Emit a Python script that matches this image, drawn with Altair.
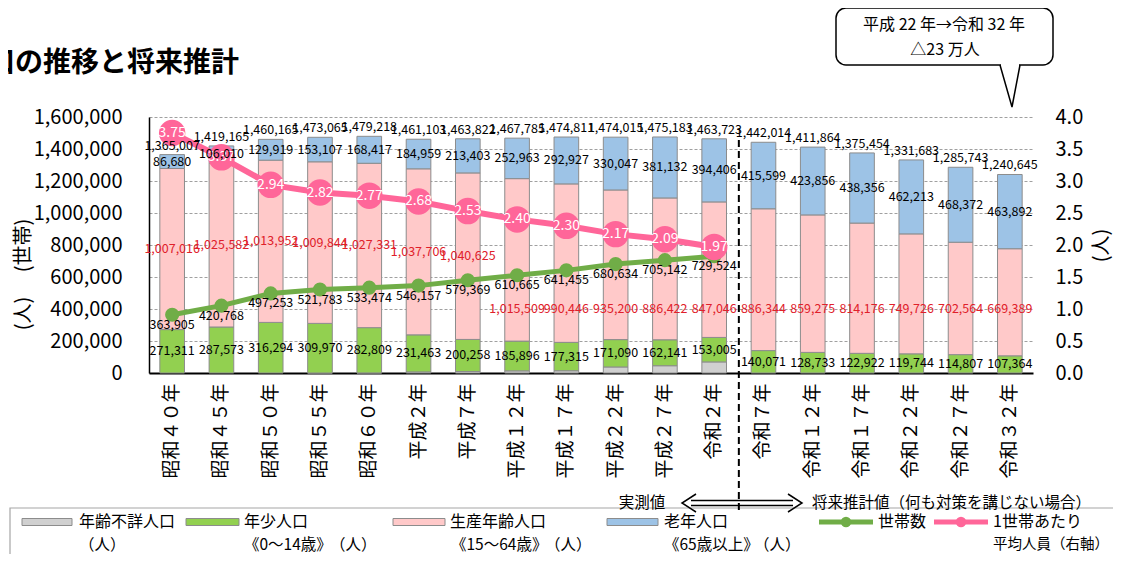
import altair as alt
import pandas as pd

FONT = "Noto Sans CJK JP"

categories = ["昭和４０年", "昭和４５年", "昭和５０年", "昭和５５年", "昭和６０年", "平成２年",
              "平成７年", "平成１２年", "平成１７年", "平成２２年", "平成２７年", "令和２年",
              "令和７年", "令和１２年", "令和１７年", "令和２２年", "令和２７年", "令和３２年"]
total = [1365007, 1419165, 1460165, 1473065, 1479218, 1461103, 1463822, 1467785, 1474811,
         1474015, 1475183, 1463723, 1442014, 1411864, 1375454, 1331683, 1285743, 1240645]
young = [271311, 287573, 316294, 309970, 282809, 231463, 200258, 185896, 177315,
         171090, 162141, 153005, 140071, 128733, 122922, 119744, 114807, 107364]
working = [1007016, 1025582, 1013952, 1009844, 1027331, 1037706, 1040625, 1015509, 990446,
           935200, 886422, 847046, 886344, 859275, 814176, 749726, 702564, 669389]
elderly = [86680, 106010, 129919, 153107, 168417, 184959, 213403, 252963, 292927,
           330047, 381132, 394406, 415599, 423856, 438356, 462213, 468372, 463892]
households = [363905, 420768, 497253, 521783, 533474, 546157, 579369, 610665, 641455,
              680634, 705142, 729524]
persons_per_household = [3.75, 3.37, 2.94, 2.82, 2.77, 2.68, 2.53, 2.40, 2.30, 2.17, 2.09, 1.97]
left_ticks = [0, 200000, 400000, 600000, 800000, 1000000, 1200000, 1400000, 1600000]
right_ticks = [0.0, 0.5, 1.0, 1.5, 2.0, 2.5, 3.0, 3.5, 4.0]

groups = ["年齢不詳人口", "年少人口", "生産年齢人口", "老年人口"]
group_colors = ["#d0d0d0", "#92d050", "#ffc9c9", "#9dc3e6"]
HH_COLOR = "#70ad47"
PP_COLOR = "#ff6699"
RED = "#e0202a"

unknown = [t - y - w - e for t, y, w, e in zip(total, young, working, elderly)]

# ---- stacked bar table
rows = []
for i, c in enumerate(categories):
    base = 0
    for g, v in zip(groups, [unknown[i], young[i], working[i], elderly[i]]):
        if v > 0:
            rows.append({"cat": c, "group": g, "y0": base, "y1": base + v})
        base += v
bar_df = pd.DataFrame(rows)

lab = pd.DataFrame({"cat": categories, "total": total, "young": young, "working": working,
                    "elderly": elderly, "unknown": unknown})
lab["idx"] = range(len(lab))
lab["total_txt"] = lab["total"].map(lambda v: f"{v:,}")
lab["eld_txt"] = lab["elderly"].map(lambda v: f"{v:,}")
lab["young_txt"] = lab["young"].map(lambda v: f"{v:,}")
lab["work_txt"] = lab["working"].map(lambda v: f"{v:,}")
lab["eld_y"] = lab["total"] - lab["elderly"] / 2
lab["young_y"] = lab["unknown"] + lab["young"] / 2
lab["work_y"] = [
    (u + y + w / 2) if i < 7 else 400000
    for i, u, y, w in zip(lab["idx"], lab["unknown"], lab["young"], lab["working"])
]

hh = pd.DataFrame({"cat": categories[:len(households)], "hh": households,
                   "pp": persons_per_household})
hh["hh_txt"] = hh["hh"].map(lambda v: f"{v:,}")
hh["pp_txt"] = hh["pp"].map(lambda v: f"{v:.2f}")

xscale = alt.Scale(domain=categories, paddingInner=0.5, paddingOuter=0.22)
xaxis = alt.Axis(title=None, labelAngle=-90, labelFontSize=19, labelFont=FONT, labelColor="black",
                 labelPadding=10, ticks=False, domainColor="black", domainWidth=2,
                 labelAlign="right", labelBaseline="middle")
X = alt.X("cat:N", scale=xscale, axis=xaxis)

yscale_l = alt.Scale(domain=[0, 1600000], nice=False, zero=True)
yaxis_l = alt.Axis(values=left_ticks, format=",d", labelFontSize=20, labelFont=FONT,
                   labelColor="black", labelPadding=27, ticks=False, domainColor="black",
                   domainWidth=1.5, grid=True, gridColor="#a0a0a0", gridDash=[3, 2],
                   gridWidth=1, title="(人)　 (世帯)", titleFont=FONT, titleFontSize=20,
                   titleFontWeight="normal", titleColor="black", titleAngle=-90,
                   titleX=-126, titleY=157, titleAlign="center", titleBaseline="middle")
yscale_r = alt.Scale(domain=[0, 4], nice=False, zero=True)
yaxis_r = alt.Axis(orient="right", values=right_ticks, format=".1f", labelFontSize=20,
                   labelFont=FONT, labelColor="black", labelPadding=22, ticks=False,
                   domain=False, grid=False, title="(人)", titleFont=FONT, titleFontSize=20,
                   titleFontWeight="normal", titleColor="black", titleAngle=-90, titleX=68,
                   titleY=128, titleAlign="center", titleBaseline="middle")

# ---- left group: bars, separator, household line
bars = alt.Chart(bar_df).mark_bar(stroke="#8c8c8c", strokeWidth=1).encode(
    x=X,
    y=alt.Y("y0:Q", scale=yscale_l, axis=yaxis_l),
    y2="y1:Q",
    color=alt.Color("group:N", scale=alt.Scale(domain=groups, range=group_colors), legend=None),
)
sep = alt.Chart(pd.DataFrame({"cat": [categories[12]]})).mark_rule(
    color="black", strokeWidth=2, strokeDash=[7, 4], xOffset=-12.3
).encode(
    x=alt.X("cat:N", scale=xscale, axis=xaxis, bandPosition=0),
    y=alt.value(23), y2=alt.value(395),
)
hh_line = alt.Chart(hh).mark_line(color=HH_COLOR, strokeWidth=5).encode(
    x=X, y=alt.Y("hh:Q", scale=yscale_l, axis=yaxis_l))
hh_pts = alt.Chart(hh).mark_circle(color=HH_COLOR, size=200, opacity=1).encode(
    x=X, y=alt.Y("hh:Q", scale=yscale_l, axis=yaxis_l))
left = alt.layer(bars, sep, hh_line, hh_pts)

# ---- right group: persons per household
Yr = alt.Y("pp:Q", scale=yscale_r, axis=yaxis_r)
pp_line = alt.Chart(hh).mark_line(color=PP_COLOR, strokeWidth=6).encode(x=X, y=Yr)
pp_pts = alt.Chart(hh).mark_circle(color=PP_COLOR, size=700, opacity=1).encode(x=X, y=Yr)
pp_txt = alt.Chart(hh).mark_text(color="white", fontSize=14, font=FONT).encode(
    x=X, y=Yr, text="pp_txt:N")
right = alt.layer(pp_line, pp_pts, pp_txt)

# ---- value labels group
def vlabel(df, yfield, tfield, color="black", dy=0):
    return alt.Chart(df).mark_text(color=color, fontSize=12.5, font=FONT, dy=dy).encode(
        x=X, y=alt.Y(f"{yfield}:Q", scale=yscale_l, axis=None), text=f"{tfield}:N")

labels = alt.layer(
    vlabel(lab, "total", "total_txt", dy=-9),
    vlabel(lab, "eld_y", "eld_txt"),
    vlabel(lab, "young_y", "young_txt"),
    vlabel(lab, "work_y", "work_txt", color=RED),
    vlabel(hh, "hh", "hh_txt", dy=10),
)

# ---- annotations in pixel space (plot origin)
PX = alt.X("px:Q", scale=None)
PY = alt.Y("py:Q", scale=None)


def txt(items, **kw):
    df = pd.DataFrame(items, columns=["px", "py", "text"])
    return alt.Chart(df).mark_text(font=FONT, color="black", **kw).encode(x=PX, y=PY, text="text:N")


def rects(items, **kw):
    df = pd.DataFrame(items, columns=["px", "px2", "py", "py2", "fill"])
    return alt.Chart(df).mark_rect(**kw).encode(
        x=PX, x2="px2:Q", y=PY, y2="py2:Q", color=alt.Color("fill:N", scale=None))


def polyline(points, **kw):
    df = pd.DataFrame(points, columns=["seg", "o", "px", "py"])
    return alt.Chart(df).mark_line(**kw).encode(x=PX, y=PY, detail="seg:N", order="o:Q")


legend_box = rects([(-139, 985, 391, 460, "white")], stroke="#a6a6a6", strokeWidth=1.2)
callout_box = rects([(687, 904, -109, -52, "white")], stroke="black", strokeWidth=1.5,
                    cornerRadius=10)
callout_gap = alt.Chart(pd.DataFrame({"px": [852], "px2": [870], "py": [-52]})).mark_rule(
    color="white", strokeWidth=3).encode(x=PX, x2="px2:Q", y=PY)
callout_ptr = polyline([(0, 0, 851, -52), (0, 1, 863, -10), (0, 2, 871, -52)],
                       color="black", strokeWidth=1.5)

arrow = polyline([
    (0, 0, 542, 383.5), (0, 1, 644, 383.5),
    (1, 0, 542, 388.5), (1, 1, 644, 388.5),
    (2, 0, 547, 377), (2, 1, 533, 386), (2, 2, 547, 395),
    (3, 0, 639, 377), (3, 1, 653, 386), (3, 2, 639, 395),
], color="black", strokeWidth=1.5)

swatches = rects([
    (-127, -77, 401.5, 408.5, group_colors[0]),
    (37, 90, 401.5, 408.5, group_colors[1]),
    (244, 296, 401.5, 408.5, group_colors[2]),
    (458, 509, 401.5, 408.5, group_colors[3]),
], stroke="#8c8c8c", strokeWidth=1)
leg_lines = alt.Chart(pd.DataFrame({
    "seg": ["a", "a", "b", "b"], "px": [670, 724, 785, 839], "py": [405, 405, 405, 405],
    "c": [HH_COLOR, HH_COLOR, PP_COLOR, PP_COLOR]})).mark_line(strokeWidth=5).encode(
    x=PX, y=PY, detail="seg:N", color=alt.Color("c:N", scale=None))
leg_dots = alt.Chart(pd.DataFrame({
    "px": [697, 812], "py": [405, 405], "c": [HH_COLOR, PP_COLOR]})).mark_circle(
    size=110, opacity=1).encode(x=PX, y=PY, color=alt.Color("c:N", scale=None))

title = txt([(-162, -53.5, "口の推移と将来推計")], fontSize=28, fontWeight="bold",
            align="left", baseline="middle")
callout_txt = txt([(795, -92, "平成 22 年→令和 32 年"), (796, -67, "△23 万人")],
                  fontSize=16, align="center", baseline="middle")
arrow_txt = txt([(493, 386, "実測値")], fontSize=15.5, align="center", baseline="middle")
future_txt = txt([(663, 386, "将来推計値（何も対策を講じない場合）")], fontSize=15.5,
                 align="left", baseline="middle")
leg_row1 = txt([(-70, 405, "年齢不詳人口"), (95, 405, "年少人口"), (301, 405, "生産年齢人口"),
                (515, 405, "老年人口"), (729, 405, "世帯数"), (844, 405, "1世帯あたり")],
               fontSize=16, align="left", baseline="middle")
leg_row2 = txt([(-70, 428, "（人）"), (95, 428, "《0～14歳》"), (181, 428, "（人）"),
                (302, 428, "《15～64歳》"), (396, 428, "（人）"), (515, 428, "《65歳以上》"),
                (605, 428, "（人）")],
               fontSize=15.5, align="left", baseline="middle")
leg_row2b = txt([(844, 428, "平均人員（右軸）")], fontSize=14.5, align="left", baseline="middle")

background = alt.layer(legend_box, callout_box, callout_gap, callout_ptr)
foreground = alt.layer(arrow, swatches, leg_lines, leg_dots, title, callout_txt, arrow_txt,
                       future_txt, leg_row1, leg_row2, leg_row2b)

chart = alt.layer(background, left, right, labels, foreground).resolve_scale(
    y="independent"
).properties(
    width=884, height=256,
    padding={"left": 141, "top": 109, "right": 80, "bottom": 181},
    autosize=alt.AutoSizeParams(type="none"),
).configure(font=FONT).configure_view(stroke=None)

chart.save("out.html", embed_options={"renderer": "svg", "actions": False})
